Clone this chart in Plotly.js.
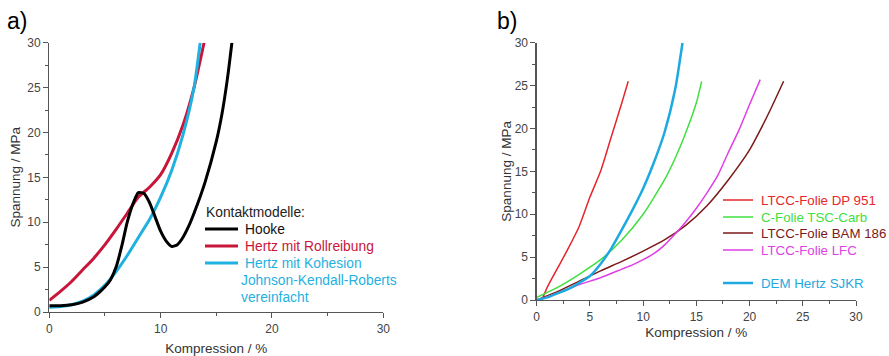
<!DOCTYPE html>
<html><head><meta charset="utf-8">
<script src="https://cdn.plot.ly/plotly-3.0.1.min.js"></script>
<style>html,body{margin:0;padding:0;background:#fff}#c{width:889px;height:356px}</style>
</head><body><div id="c"></div>
<script>
// Panel a) contact models
const hookeX = [0,1,2,3,4,4.5,5,5.5,6,6.5,7,7.5,8,8.5,9,9.5,10,10.5,11,11.5,12,12.5,13,14,15,15.5,16,16.4];
const hookeY = [0.7,0.7,0.8,1.1,1.7,2.2,2.8,3.6,5,7.3,10,12,13.3,13.2,12.2,10.6,9,7.9,7.3,7.5,8.3,9.5,11,14.5,19,22,26,30];
const rollX = [0,1,2,3,4,5,6,7,8,9,10,11,12,13,13.9];
const rollY = [1.3,2.3,3.4,4.7,6,7.5,9.2,11,12.8,13.9,15.3,17.7,20.8,25,30];
const kohX = [0,1,2,3,4,5,6,7,8,9,10,11,12,13,13.55];
const kohY = [0.5,0.6,0.8,1.2,1.9,3,4.5,6.3,8.3,10.3,12.8,15.8,19.7,25,30];
// Panel b) foils
const dpX = [0.5,1,2,3,4,5,6,7,8,8.6];
const dpY = [0,1.5,3.8,6.1,8.6,12,15,19,23,25.5];
const tscX = [0,2,4,6,8,10,12,13,14,15,15.5];
const tscY = [0.3,1.5,3,4.7,7,10,14,16.5,19.5,23,25.5];
const bamX = [0,2,4,6,8,10,12,14,16,18,20,21,22,23.2];
const bamY = [0,1,2.2,3.4,4.5,5.7,7,8.7,11,14,17.5,19.8,22.3,25.5];
const lfcX = [0,2,4,6,8,9,10,11,12,13,14,15,16,17,18,19,20,21];
const lfcY = [0,0.8,1.8,2.6,3.6,4.1,4.7,5.4,6.4,7.7,9.1,10.7,12.5,14.5,17.2,19.8,22.8,25.7];
const demX = [0,1,2,3,4,5,6,7,8,9,10,11,12,13,13.7];
const demY = [0,0.3,0.8,1.3,2,2.8,4.2,6,8.2,10.5,13,16,19.5,24.5,30];

const legA = ['Hooke','Hertz mit Rollreibung','Hertz mit Kohesion','Johnson-Kendall-Roberts','vereinfacht'];
const legB = ['LTCC-Folie DP 951','C-Folie TSC-Carb','LTCC-Folie BAM 186','LTCC-Folie LFC','DEM Hertz SJKR'];

const cBlack='#000000', cRed='#c8163a', cCyan='#1fb1e0';
const bRed='#e5262a', bGreen='#3fe03f', bBrown='#7a1a1a', bMag='#e03ee6', bCyan='#1ea9e0';

const W=889,H=356;
const px = v=>v/W, py = v=>1-v/H;

function tr(x,y,color,w,xa,ya){return {x:x,y:y,mode:'lines',line:{color:color,width:w,shape:'spline',smoothing:0.6},xaxis:xa,yaxis:ya,showlegend:false,hoverinfo:'skip'};}
const data = [
  tr(rollX,rollY,cRed,3,'x','y'),
  tr(kohX,kohY,cCyan,3,'x','y'),
  tr(hookeX,hookeY,cBlack,3,'x','y'),
  tr(dpX,dpY,bRed,1.5,'x2','y2'),
  tr(tscX,tscY,bGreen,1.5,'x2','y2'),
  tr(bamX,bamY,bBrown,1.5,'x2','y2'),
  tr(lfcX,lfcY,bMag,1.5,'x2','y2'),
  tr(demX,demY,bCyan,2.5,'x2','y2')
];

const font='Liberation Sans, Arial, sans-serif';
function ax(dom,dt,mdt,title,stand,anchor){
  return {domain:dom,range:[0,30],dtick:dt,tick0:0,ticks:'outside',ticklen:5,tickwidth:1,tickcolor:'#555',
    showline:true,linecolor:'#555',linewidth:1.3,showgrid:false,zeroline:false,anchor:anchor,
    tickfont:{family:font,size:12,color:'#444'},
    minor:{dtick:mdt,ticks:'outside',ticklen:3,tickcolor:'#555'},
    title:{text:title,font:{family:font,size:13.5,color:'#333'},standoff:stand},fixedrange:true};
}
const layout = {
  width:W,height:H,margin:{l:0,r:0,t:0,b:0},paper_bgcolor:'#fff',plot_bgcolor:'#fff',showlegend:false,
  xaxis:ax([px(49.3),px(383.3)],10,5,'Kompression / %',8,'y'),
  yaxis:ax([1-312/H,1-42.7/H],5,2.5,'Spannung / MPa',3,'x'),
  xaxis2:ax([px(536.7),px(856)],5,2.5,'Kompression / %',4,'y2'),
  yaxis2:ax([1-300/H,1-42.7/H],5,2.5,'Spannung / MPa',0,'x2'),
  annotations:[],shapes:[]
};
function txt(x,y,t,color,size){layout.annotations.push({xref:'paper',yref:'paper',x:px(x),y:py(y),text:t,showarrow:false,xanchor:'left',yanchor:'middle',font:{family:font,size:size||13,color:color}});}
function seg(x0,x1,y,color,w){layout.shapes.push({type:'line',xref:'paper',yref:'paper',x0:px(x0),x1:px(x1),y0:py(y),y1:py(y),line:{color:color,width:w}});}
txt(5,21,'a)','#000',23);
txt(495,21,'b)','#000',23);
// legend a
const fa=13.8;
txt(204,212,'Kontaktmodelle:','#222',fa);
seg(205,238,229,cBlack,3); txt(243,229,legA[0],'#111',fa);
seg(205,238,246,cRed,3); txt(243,246,legA[1],cRed,fa);
seg(205,238,263,cCyan,3); txt(243,263,legA[2],cCyan,fa);
txt(239,280,legA[3],cCyan,fa);
txt(239,297,legA[4],cCyan,fa);
// legend b
const lb=[[200,bRed],[217,bGreen],[233,bBrown],[250,bMag],[283,bCyan]];
lb.forEach((e,i)=>{seg(723,753,e[0],e[1],i===4?2.5:1.5); txt(759,e[0],legB[i],e[1],13.3);});
Plotly.newPlot('c',data,layout,{staticPlot:true});
</script></body></html>
